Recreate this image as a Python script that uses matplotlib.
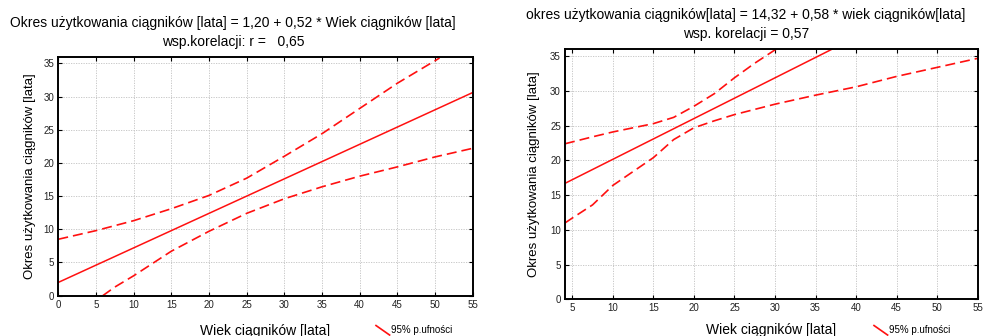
import numpy as np
import matplotlib.pyplot as plt
from matplotlib.lines import Line2D
from matplotlib.legend_handler import HandlerBase

# ========================= Data =========================
# left panel
left_fit_x = [0, 55]
left_fit_y = [2.0, 30.6]
left_up_x = [0, 5, 10, 15, 20, 25, 30, 35, 40, 45, 50.6]
left_up_y = [8.5, 9.8, 11.3, 13.1, 15.1, 17.7, 21.0, 24.4, 28.2, 32.0, 35.8]
left_lo_x = [5.9, 7.5, 10, 15, 20, 25, 30, 35, 40, 45, 50, 55]
left_lo_y = [0.0, 1.3, 3.0, 6.7, 9.7, 12.4, 14.6, 16.4, 18.0, 19.4, 20.9, 22.2]

# right panel
right_fit_x = [4.1, 37.0]
right_fit_y = [16.7, 36.0]
right_up_x = [4.1, 7.5, 10, 12.5, 15, 17.5, 20, 22.5, 25, 27.5, 30.1]
right_up_y = [22.4, 23.4, 24.1, 24.7, 25.3, 26.2, 27.8, 29.6, 31.9, 34.0, 36.0]
right_lo_x = [4.1, 5, 7.5, 10, 12.5, 15, 17.5, 20, 22.5, 25, 30, 35, 40, 45, 50, 55]
right_lo_y = [11.0, 11.7, 13.6, 16.4, 18.4, 20.4, 23.0, 24.7, 25.7, 26.6, 28.1, 29.4, 30.6, 32.1, 33.4, 34.7]

left_title = ["Okres użytkowania ciągników [lata] = 1,20 + 0,52 * Wiek ciągników [lata]",
              "wsp.korelacji: r =   0,65"]
right_title = ["okres użytkowania ciągników[lata] = 14,32 + 0,58 * wiek ciągników[lata]",
               "wsp. korelacji = 0,57"]
xlabel = "Wiek ciągników [lata]"
ylabel = "Okres użytkowania ciągników [lata]"
legend_text = "95% p.ufności"

# ========================= Style =========================
plt.rcParams['font.family'] = ['Liberation Sans', 'DejaVu Sans']
RED = '#ff1010'
DASH = (0, (6, 3))


class DiagHandler(HandlerBase):
    """Legend key drawn as a short falling diagonal line."""
    def create_artists(self, legend, orig_handle, xdescent, ydescent,
                       width, height, fontsize, trans):
        ln = Line2D([-xdescent, -xdescent + width],
                    [-ydescent + height * 1.1, -ydescent - height * 0.3],
                    color=RED, lw=1.2, transform=trans)
        return [ln]


def setup_axes(ax, xlim, xticks):
    ax.set_xlim(*xlim)
    ax.set_ylim(0, 36)
    ax.set_xticks(xticks)
    ax.set_yticks(range(0, 36, 5))
    ax.grid(True, color='#c0c0c0', linestyle=(0, (1.5, 1.5)), lw=0.6)
    ax.tick_params(direction='in', length=3, width=0.8, labelsize=7,
                   top=True, right=True, colors='black', labelcolor='#222222', pad=3)
    for s in ax.spines.values():
        s.set_linewidth(1.4)


fig = plt.figure(figsize=(9.85, 3.36), dpi=100)

# ---------- left ----------
ax1 = fig.add_axes([0.0592, 0.120, 0.4207, 0.7113])
setup_axes(ax1, (0, 55), range(0, 56, 5))
ax1.plot(left_fit_x, left_fit_y, color=RED, lw=1.1)
ax1.plot(left_up_x, left_up_y, color=RED, lw=1.2, ls=DASH)
ax1.plot(left_lo_x, left_lo_y, color=RED, lw=1.2, ls=DASH)
ax1.set_xlabel(xlabel, fontsize=10, labelpad=10)
ax1.set_ylabel(ylabel, fontsize=9.5, labelpad=5)

fig.text(0.2365, 0.932, left_title[0], ha='center', va='center', fontsize=10)
fig.text(0.2365, 0.875, left_title[1], ha='center', va='center', fontsize=10)

# ---------- right ----------
ax2 = fig.add_axes([0.5736, 0.1092, 0.419, 0.744])
setup_axes(ax2, (4.1, 55), range(5, 56, 5))
ax2.plot(right_fit_x, right_fit_y, color=RED, lw=1.1)
ax2.plot(right_up_x, right_up_y, color=RED, lw=1.2, ls=DASH)
ax2.plot(right_lo_x, right_lo_y, color=RED, lw=1.2, ls=DASH)
ax2.set_xlabel(xlabel, fontsize=10, labelpad=7)
ax2.set_ylabel(ylabel, fontsize=9.5, labelpad=7)

fig.text(0.7574, 0.954, right_title[0], ha='center', va='center', fontsize=10)
fig.text(0.7574, 0.899, right_title[1], ha='center', va='center', fontsize=10)

# legend keys
key = Line2D([], [], color=RED)
for xa in (376 / 985, 874 / 985):
    fig.legend([key], [legend_text], handler_map={Line2D: DiagHandler()},
               loc='center left', bbox_to_anchor=(xa, 1 - 330 / 336),
               frameon=False, fontsize=7, handlelength=1.4,
               handletextpad=0.15, borderpad=0, borderaxespad=0)

fig.savefig('out.png', dpi=100)
